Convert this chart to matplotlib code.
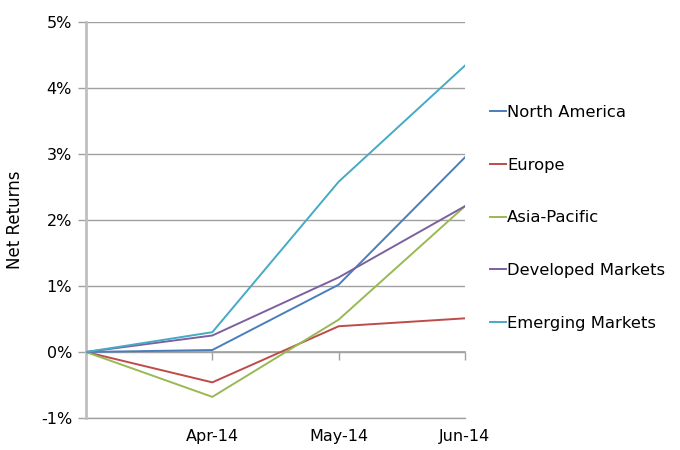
import matplotlib
matplotlib.use("Agg")
import matplotlib.pyplot as plt
from matplotlib.ticker import FuncFormatter

plt.rcParams['font.family'] = ['DejaVu Sans']

categories = ["", "Apr-14", "May-14", "Jun-14"]
north_america = [0.0, 0.03, 1.02, 2.95]
europe = [0.0, -0.46, 0.39, 0.51]
asia_pacific = [0.0, -0.68, 0.49, 2.21]
developed = [0.0, 0.25, 1.13, 2.21]
emerging = [0.0, 0.30, 2.58, 4.34]

series = [
    ("North America", north_america, "#4A7EBB"),
    ("Europe", europe, "#BE4B48"),
    ("Asia-Pacific", asia_pacific, "#98B954"),
    ("Developed Markets", developed, "#7D60A0"),
    ("Emerging Markets", emerging, "#46AAC5"),
]

fig = plt.figure(figsize=(6.8, 4.5), dpi=100)
ax = fig.add_axes([86/680, 1-418/450, (465-86)/680, (418-22)/450])

x = list(range(len(categories)))
for name, vals, col in series:
    ax.plot(x, vals, color=col, lw=1.4, label=name, zorder=3)

ax.set_xlim(0, 3)
ax.set_ylim(-1, 5)
ax.set_yticks(range(-1, 6))
ax.yaxis.set_major_formatter(FuncFormatter(lambda v, p: f"{int(v)}%"))
ax.grid(axis='y', color='#A0A0A0', lw=1.0)
ax.axhline(-1, color='#A0A0A0', lw=1.0, clip_on=False, zorder=1)
ax.set_axisbelow(True)
for s in ['top', 'right', 'bottom']:
    ax.spines[s].set_visible(False)
ax.spines['left'].set_color('#BFBFBF')
ax.spines['left'].set_linewidth(2)
ax.tick_params(axis='y', length=6, width=1, color='#A0A0A0', labelsize=11.5, pad=4)
ax.set_xticks(x)
ax.set_xticklabels(categories)
ax.tick_params(axis='x', length=0, labelsize=11.5, pad=8)

sec = ax.secondary_xaxis(1/6)
sec.set_xticks(x[1:])
sec.set_xticklabels([])
sec.tick_params(axis='x', direction='out', length=6, width=1, color='#A0A0A0')
sec.spines['bottom'].set_color('#A0A0A0')
sec.spines['bottom'].set_linewidth(1.2)

ax.set_ylabel("Net Returns", fontsize=12, labelpad=12)

leg = ax.legend(loc='upper left', bbox_to_anchor=(490/680, 1-105/450),
                bbox_transform=fig.transFigure, frameon=False, fontsize=11.8,
                handlelength=0.95, handletextpad=0.1, labelspacing=2.3,
                borderaxespad=0, borderpad=0)
for h in leg.get_lines():
    h.set_linewidth(1.4)

fig.savefig("out.png", dpi=100)
